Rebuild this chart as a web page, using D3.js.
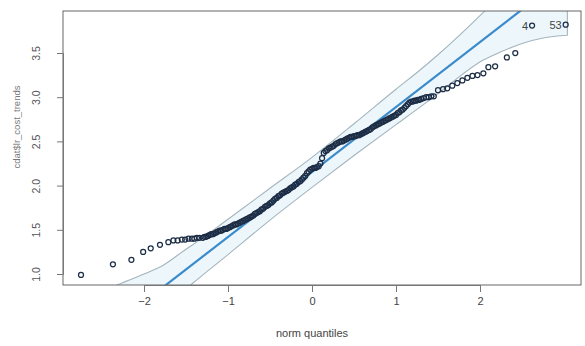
<!DOCTYPE html>
<html><head><meta charset="utf-8">
<script src="https://cdn.jsdelivr.net/npm/d3@7"></script>
<style>
html,body{margin:0;padding:0;background:#fff;}
svg{display:block;font-family:"Liberation Sans",Arial,sans-serif;}
</style></head>
<body>
<svg id="chart" width="585" height="346"></svg>
<script>
// theoretical normal quantiles of each plotted point
const theoQ = [
-2.75,-2.37,-2.15,-2.01,-1.92,-1.81,-1.71,-1.65,-1.60,-1.55,-1.51,-1.47,-1.43,-1.40,-1.37,-1.34,
-1.30,-1.28,-1.26,-1.24,-1.22,-1.20,-1.18,-1.16,-1.14,-1.12,
-1.10,-1.08,-1.06,-1.04,-1.02,-1.00,-0.98,-0.96,-0.94,-0.92,
-0.90,-0.88,-0.86,-0.84,-0.82,-0.80,-0.78,-0.76,-0.74,-0.72,
-0.70,-0.68,-0.66,-0.64,-0.62,-0.60,-0.58,-0.56,-0.54,-0.52,
-0.50,-0.48,-0.46,-0.44,-0.42,-0.40,-0.38,-0.36,-0.34,-0.32,
-0.30,-0.28,-0.26,-0.24,-0.22,-0.20,-0.18,-0.16,-0.14,-0.12,
-0.10,-0.08,-0.06,-0.04,-0.02,0.00,0.02,0.04,0.06,0.08,
0.10,0.12,0.14,0.16,0.18,0.20,0.22,0.24,0.26,0.28,
0.30,0.32,0.34,0.36,0.38,0.40,0.42,0.44,0.46,0.48,
0.50,0.52,0.54,0.56,0.58,0.60,0.62,0.64,0.66,0.68,
0.70,0.72,0.74,0.76,0.78,0.80,0.82,0.84,0.86,0.88,
0.90,0.92,0.94,0.96,0.98,1.00,1.02,1.04,1.06,1.08,
1.10,1.12,1.14,1.16,1.18,1.20,1.22,1.24,1.26,1.28,
1.30,1.33,1.36,1.39,1.42,1.45,
1.50,1.56,1.61,1.67,1.73,1.79,1.85,1.91,1.97,2.04,2.10,2.18,2.32,2.42,2.62,3.02
];
// sorted sample values (cdat$lr_cost_trends)
const sampleVals = [
0.99,1.11,1.16,1.25,1.29,1.33,1.36,1.38,1.38,1.39,1.39,1.40,1.40,1.40,1.41,1.41,
1.41,1.42,1.42,1.43,1.44,1.45,1.45,1.46,1.47,1.48,
1.49,1.49,1.50,1.51,1.51,1.52,1.53,1.54,1.55,1.56,
1.56,1.57,1.58,1.59,1.60,1.61,1.62,1.63,1.64,1.65,
1.66,1.68,1.69,1.70,1.71,1.73,1.74,1.76,1.77,1.78,
1.80,1.81,1.83,1.85,1.86,1.88,1.89,1.91,1.92,1.93,
1.94,1.95,1.97,1.98,1.99,2.01,2.02,2.04,2.05,2.07,
2.09,2.11,2.14,2.16,2.18,2.19,2.20,2.20,2.21,2.22,
2.25,2.31,2.37,2.39,2.40,2.42,2.43,2.44,2.45,2.47,
2.48,2.49,2.50,2.50,2.51,2.52,2.53,2.54,2.55,2.55,
2.56,2.56,2.57,2.57,2.58,2.59,2.60,2.61,2.62,2.63,
2.64,2.66,2.67,2.68,2.69,2.70,2.71,2.72,2.73,2.74,
2.75,2.76,2.77,2.78,2.79,2.80,2.82,2.83,2.85,2.86,
2.88,2.90,2.92,2.94,2.95,2.95,2.96,2.96,2.97,2.97,
2.98,2.99,3.00,3.00,3.01,3.01,
3.08,3.09,3.10,3.13,3.16,3.19,3.22,3.24,3.25,3.27,3.34,3.35,3.45,3.50,3.81,3.82
];
// labelled points (observation ids)
const pointLabels = ["4","53"];
const labelValues = [3.81,3.82];

// reference line (intercept, slope)
const refLine = [2.154, 0.735];

// confidence envelope knots
const envQ     = [-2.80,-2.50,-2.32,-2.00,-1.77,-1.50,-1.42,-1.00,-0.50,0.00,0.50,1.00,1.29,1.50,2.04,2.24,2.51,2.75,3.04];
const envUpper = [ 0.70, 0.80,0.876, 1.00, 1.10, 1.28, 1.33, 1.62, 1.97,2.32,2.70,3.09,3.31,3.48,3.96,4.15,4.45,4.75,5.10];
const envLower = [-0.30, 0.00, 0.15, 0.36, 0.60, 0.83,0.895, 1.22, 1.61,1.98,2.34,2.69,2.89,3.04,3.42,3.51,3.61,3.67,3.70];

const xTicks = [-2,-1,0,1,2];
const yTicks = [1.0,1.5,2.0,2.5,3.0,3.5];

const svg = d3.select("#chart");
const L = 63, R = 581, T = 11, B = 285;

const x = d3.scaleLinear().domain([-2, 2]).range([144, 480]);
const y = d3.scaleLinear().domain([1, 3.5]).range([274, 53]);

svg.append("defs").append("clipPath").attr("id","clip")
  .append("rect").attr("x",L).attr("y",T).attr("width",R-L).attr("height",B-T);

const plot = svg.append("g").attr("clip-path","url(#clip)");

const env = envQ.map((q,i)=>({q, u:envUpper[i], l:envLower[i]}));
const area = d3.area().x(d=>x(d.q)).y0(d=>y(d.l)).y1(d=>y(d.u)).curve(d3.curveMonotoneX);
plot.append("path").datum(env).attr("d", area)
  .attr("fill","#edf7fb").attr("stroke","#a3b5bf").attr("stroke-width",1.1);

// reference line
const lq = [-2.5, 3.2];
plot.append("line")
  .attr("x1", x(lq[0])).attr("y1", y(refLine[0]+refLine[1]*lq[0]))
  .attr("x2", x(lq[1])).attr("y2", y(refLine[0]+refLine[1]*lq[1]))
  .attr("stroke","#3b8bcb").attr("stroke-width",2.2);

// points
const pts = theoQ.map((q,i)=>({q, v:sampleVals[i]}));
plot.selectAll("circle.pt").data(pts).enter().append("circle")
  .attr("class","pt")
  .attr("cx", d=>x(d.q)).attr("cy", d=>y(d.v)).attr("r", 2.5)
  .attr("fill","none").attr("stroke","#1c2d45").attr("stroke-width",1.25);

// labels of extreme points (left of point)
pointLabels.forEach((lab,i)=>{
  const p = pts.find(d=>d.v===labelValues[i]);
  svg.append("text").attr("x", x(p.q)-4).attr("y", y(p.v)+4)
    .attr("text-anchor","end").attr("font-size",11).attr("fill","#444").text(lab);
});

// frame
svg.append("rect").attr("x",L).attr("y",T).attr("width",R-L).attr("height",B-T)
  .attr("fill","none").attr("stroke","#666").attr("stroke-width",1);

// x axis
const xa = svg.append("g").attr("transform",`translate(0,${B})`)
  .call(d3.axisBottom(x).tickValues(xTicks).tickSize(7).tickPadding(5).tickFormat(d3.format("d")));
xa.select(".domain").attr("stroke","#777");
xa.selectAll(".tick line").attr("stroke","#777");
xa.selectAll("text").attr("font-size",11).attr("fill","#444").attr("font-family","Liberation Sans, Arial, sans-serif");

// y axis
const ya = svg.append("g").attr("transform",`translate(${L},0)`)
  .call(d3.axisLeft(y).tickValues(yTicks).tickSize(6).tickFormat(d3.format(".1f")));
ya.select(".domain").attr("stroke","#777");
ya.selectAll(".tick line").attr("stroke","#777");
ya.selectAll("text").attr("font-size",10.5).attr("fill","#555")
  .attr("font-family","Liberation Sans, Arial, sans-serif")
  .attr("text-anchor","middle").attr("x",0).attr("dy",0)
  .attr("transform","translate(-23,0) rotate(-90)");

// axis titles
svg.append("text").attr("x",312).attr("y",337).attr("text-anchor","middle")
  .attr("font-size",11).attr("fill","#444").text("norm quantiles");
svg.append("text").attr("transform","translate(20,127) rotate(-90)").attr("text-anchor","middle")
  .attr("font-size",9.5).attr("fill","#777").text("cdat$lr_cost_trends");
</script>
</body></html>
